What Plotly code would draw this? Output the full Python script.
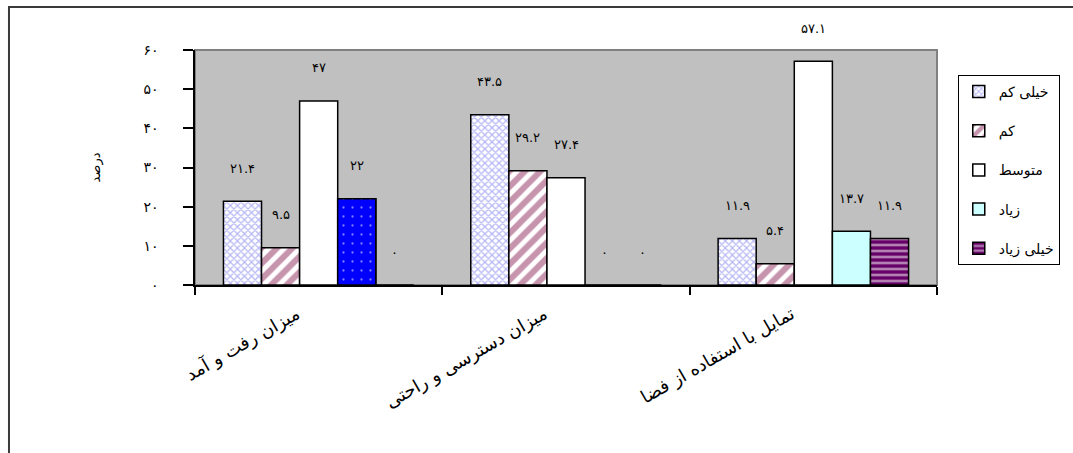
import plotly.graph_objects as go

# ---------------- data ----------------
categories = ["میزان رفت و آمد", "میزان دسترسی و راحتی", "تمایل با استفاده از فضا"]
series_names = ["خیلی کم", "کم", "متوسط", "زیاد", "خیلی زیاد"]
very_low = [21.4, 43.5, 11.9]
low = [9.5, 29.2, 5.4]
medium = [47, 27.4, 57.1]
high = [22, 0, 13.7]
very_high = [0, 0, 11.9]
y_ticks = [0, 10, 20, 30, 40, 50, 60]
y_title = "درصد"

values = [very_low, low, medium, high, very_high]

FA = str.maketrans("0123456789", "۰۱۲۳۴۵۶۷۸۹")


def fa(v):
    return f"{v:g}".translate(FA)


FONT = "DejaVu Sans"

styles = [
    dict(color="white", pattern=dict(shape="x", fgcolor="#7070EE", bgcolor="white", size=5, solidity=0.45)),
    dict(color="white", pattern=dict(shape="/", fgcolor="#8E2A5C", bgcolor="white", size=11, solidity=0.55)),
    dict(color="white"),
    dict(color="#CCFFFF"),
    dict(color="#660066", pattern=dict(shape="-", fgcolor="white", bgcolor="#660066", size=6, solidity=0.45)),
]

fig = go.Figure()
for i, (name, vals, st) in enumerate(zip(series_names, values, styles)):
    fig.add_trace(go.Bar(
        x=categories, y=vals, name=name,
        offsetgroup=str(i), legendgroup=str(i),
        marker=dict(line=dict(color="black", width=1.5), **st),
    ))

# first-category "زیاد" bar drawn in blue with white dots (point override)
fig.add_trace(go.Bar(
    x=categories[:1], y=high[:1], name=series_names[3],
    offsetgroup="3", legendgroup="3", showlegend=False,
    marker=dict(color="#0000FF", line=dict(color="black", width=1.5),
                pattern=dict(shape=".", fgcolor="white", bgcolor="#0000FF", size=9, solidity=0.05)),
))

bargap = 0.23
bw = (1 - bargap) / len(series_names)
annotations = []
for i, vals in enumerate(values):
    for j, v in enumerate(vals):
        annotations.append(dict(
            x=j + (i - 2) * bw, y=v, xref="x", yref="y",
            text=fa(v), showarrow=False, yanchor="middle", yshift=33,
            font=dict(family=FONT, size=13, color="black"),
        ))

fig.update_layout(
    width=1073, height=453, autosize=False,
    margin=dict(l=195, r=136, t=50, b=168),
    paper_bgcolor="white", plot_bgcolor="#C0C0C0",
    barmode="group", bargap=bargap, bargroupgap=0,
    font=dict(family=FONT, size=12, color="black"),
    showlegend=True,
    legend=dict(
        x=1.028, y=0.894, xanchor="left", yanchor="top",
        bgcolor="white", bordercolor="black", borderwidth=1,
        traceorder="grouped", tracegroupgap=18,
        font=dict(family=FONT, size=14, color="black"),
    ),
    annotations=annotations,
    shapes=[
        dict(type="rect", xref="paper", yref="paper", x0=0, x1=1, y0=0, y1=1,
             line=dict(color="#808080", width=2), fillcolor="#C0C0C0", layer="below"),
        dict(type="rect", xref="paper", yref="paper", x0=-0.2507, x1=1.4, y0=-0.9, y1=1.183,
             line=dict(color="#3a3a3a", width=2), fillcolor="rgba(0,0,0,0)"),
    ],
)

fig.update_xaxes(
    type="category", showgrid=False, zeroline=False,
    showline=True, linecolor="black", linewidth=1.5,
    ticks="outside", tickson="boundaries", ticklen=8, tickcolor="black", tickwidth=1.5,
    tickangle=-30, ticklabelstandoff=10, ticklabelshift=-22,
    tickfont=dict(family=FONT, size=18, color="black"),
)
fig.update_yaxes(
    range=[0, 60], showgrid=False, zeroline=False,
    showline=True, linecolor="black", linewidth=1.5,
    ticks="outside", ticklen=10, tickcolor="black", tickwidth=1.5,
    tickvals=y_ticks, ticktext=[fa(t) for t in y_ticks],
    ticklabelstandoff=22,
    tickfont=dict(family=FONT, size=14, color="black"),
    title=dict(text=y_title, standoff=40, font=dict(family=FONT, size=13, color="black")),
)

fig.update_traces(cliponaxis=False)

fig.write_html("out.html", config={"displayModeBar": False},
               post_script="document.body.style.margin='0';")
